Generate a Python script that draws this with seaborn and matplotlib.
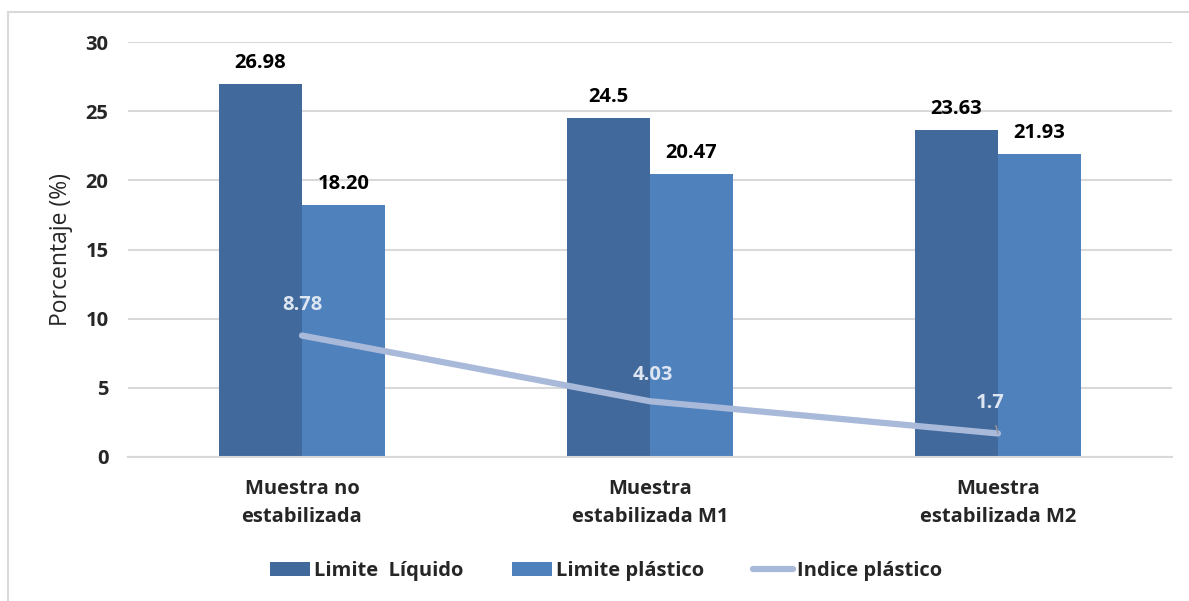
import numpy as np
import pandas as pd
import matplotlib
matplotlib.use("Agg")
import matplotlib.pyplot as plt
from matplotlib.patches import Patch, Rectangle
from matplotlib.lines import Line2D
import seaborn as sns

# Data
categories = ["Muestra no\nestabilizada", "Muestra\nestabilizada M1", "Muestra\nestabilizada M2"]
limite_liquido = ["26.98", "24.5", "23.63"]
limite_plastico = ["18.20", "20.47", "21.93"]
indice_plastico = ["8.78", "4.03", "1.7"]
series_names = ["Limite  Líquido", "Limite plástico", "Indice plástico"]
y_ticks = [0, 5, 10, 15, 20, 25, 30]

sns.set_theme(style="white")
plt.rcParams["font.family"] = ["Open Sans", "DejaVu Sans"]

FS = 14.5
dark_blue = "#41699B"
mid_blue = "#4F81BD"
line_blue = "#A9B9DA"
label_light = "#DDE5F1"
grid_grey = "#D9D9D9"

df = pd.DataFrame({
    "cat": categories * 2,
    "serie": [series_names[0]] * 3 + [series_names[1]] * 3,
    "val": [float(v) for v in limite_liquido + limite_plastico],
})

fig = plt.figure(figsize=(11.89, 6.01), dpi=100)
ax = fig.add_axes([128 / 1189, 1 - 457 / 601, (1172 - 128) / 1189, (457 - 42) / 601])

sns.barplot(data=df, x="cat", y="val", hue="serie", order=categories,
            hue_order=series_names[:2], palette=[dark_blue, mid_blue],
            width=0.477, gap=0, saturation=1, edgecolor="none", legend=False, ax=ax)

# Value labels above bars
label_sets = [limite_liquido, limite_plastico]
for cont, labs in zip(ax.containers, label_sets):
    ax.bar_label(cont, labels=labs, padding=8, fontsize=FS, fontweight="bold", color="black")

# Plasticity index line
ip_vals = [float(v) for v in indice_plastico]
x_pos = np.arange(len(categories))
sns.lineplot(x=x_pos, y=ip_vals, color=line_blue, lw=4.5, ax=ax, legend=False,
             solid_capstyle="round", zorder=5)

offsets = [(0, 22), (2, 19), (-6, 22)]
for i, (x, v, lab) in enumerate(zip(x_pos, ip_vals, indice_plastico)):
    kw = dict(xy=(x, v), xytext=offsets[i], textcoords="offset points",
              ha="center", va="center", fontsize=FS, fontweight="bold",
              color=label_light, zorder=6)
    if i == 2:
        kw["arrowprops"] = dict(arrowstyle="-", color="#9A9A9A", lw=1, shrinkA=7, shrinkB=0)
    ax.annotate(lab, **kw)

ax.set_ylim(0, 30)
ax.set_xlim(-0.5, 2.5)
ax.set_yticks(y_ticks)
ax.set_yticklabels([str(t) for t in y_ticks], fontsize=FS, fontweight="bold")
ax.set_xticks(x_pos)
ax.set_xticklabels(categories, fontsize=FS, fontweight="bold", linespacing=1.5)
ax.tick_params(axis="y", length=0, pad=14)
ax.tick_params(axis="x", length=0, pad=16)
ax.yaxis.grid(True, color=grid_grey, lw=1.5)
ax.set_axisbelow(True)
for s in ["top", "right", "left"]:
    ax.spines[s].set_visible(False)
ax.spines["bottom"].set_color(grid_grey)
ax.spines["bottom"].set_linewidth(1.5)
ax.set_xlabel("")
ax.set_ylabel("Porcentaje (%)", fontsize=16.5, labelpad=9, fontweight="normal")

# Legend
handles = [Patch(facecolor=dark_blue, edgecolor="none"),
           Patch(facecolor=mid_blue, edgecolor="none"),
           Line2D([0], [0], color=line_blue, lw=4.5, solid_capstyle="round")]
fig.legend(handles, series_names, loc="center", bbox_to_anchor=(606 / 1189, 1 - 571 / 601),
           ncol=3, frameon=False, prop={"size": FS, "weight": "bold"},
           handlelength=2.0, handleheight=0.7, handletextpad=0.2, columnspacing=2.4)

# Chart frame
fig.patches.append(Rectangle((8 / 1189, -0.1), 1.2, 1 - 12 / 601 + 0.1, transform=fig.transFigure,
                             fill=False, edgecolor="#D9D9D9", lw=1.5, zorder=0))

fig.savefig("out.png", dpi=100)
